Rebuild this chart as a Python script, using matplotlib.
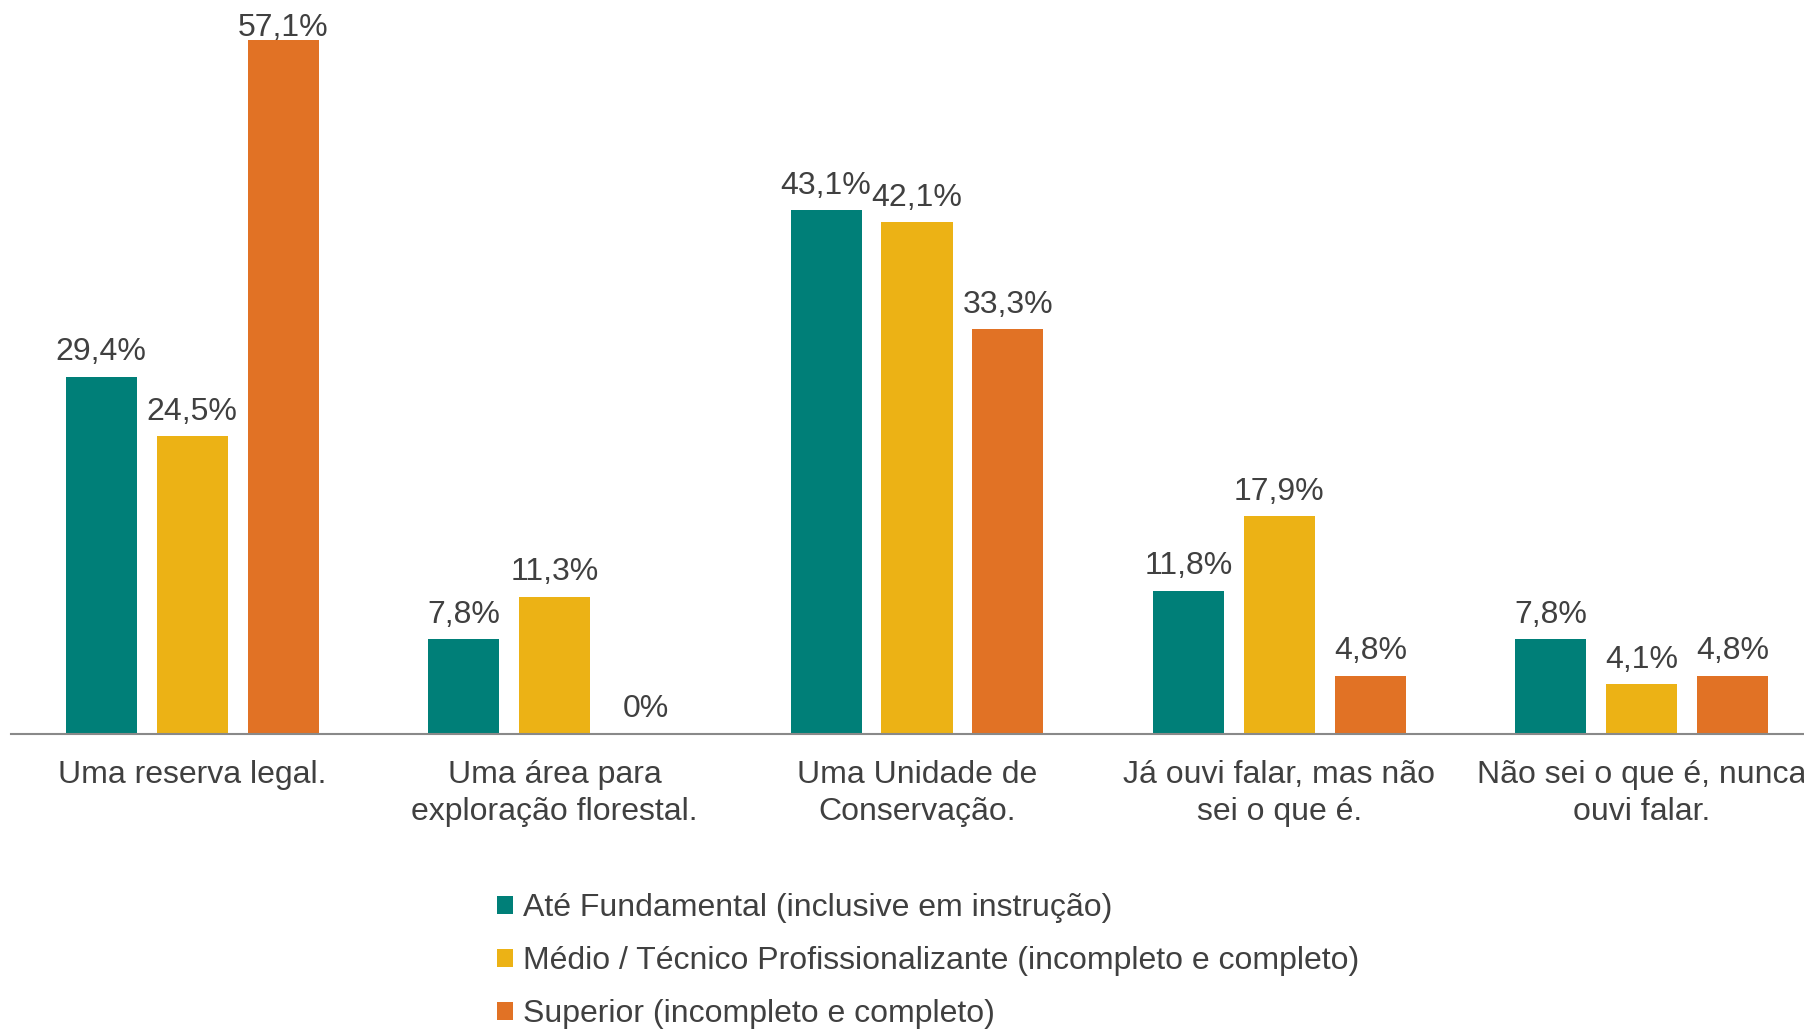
import matplotlib.pyplot as plt
import numpy as np
from matplotlib.patches import Patch

categories = ["Uma reserva legal.", "Uma área para\nexploração florestal.",
              "Uma Unidade de\nConservação.", "Já ouvi falar, mas não\nsei o que é.",
              "Não sei o que é, nunca\nouvi falar."]
series_names = ["Até Fundamental (inclusive em instrução)",
                "Médio / Técnico Profissionalizante (incompleto e completo)",
                "Superior (incompleto e completo)"]
fundamental = [29.4, 7.8, 43.1, 11.8, 7.8]
medio = [24.5, 11.3, 42.1, 17.9, 4.1]
superior = [57.1, 0.0, 33.3, 4.8, 4.8]
colors = ["#007F78", "#ECB215", "#E17225"]

plt.rcParams['font.family'] = ['Liberation Sans', 'DejaVu Sans']
TXT = "#404040"
FS = 23

fig = plt.figure(figsize=(18.04, 10.29), dpi=100)
# axes runs a bit past the right edge, like the original (last label is cut)
ax = fig.add_axes([11/1804, 1 - 734/1029, 1812/1804, 734/1029])
ymax = 60.4
ax.set_ylim(0, ymax)
ax.set_xlim(-0.5, 4.5)

x = np.arange(len(categories))
width = 0.196
step = 0.251
px_per_unit = 734 / ymax

for i, (vals, c) in enumerate(zip([fundamental, medio, superior], colors)):
    xs = x + (i - 1) * step
    ax.bar(xs, vals, width, color=c, edgecolor='none')
    for xi, v in zip(xs, vals):
        # keep label inside the figure when the bar is near the top
        room = (ymax - v) * px_per_unit - 36
        off = max(1.5, min(12, room * 0.72))
        lab = ("%.1f%%" % v).replace(".", ",") if v != 0 else "0%"
        ax.annotate(lab, (xi, v), xytext=(0, off), textcoords='offset points',
                    ha='center', va='baseline', fontsize=FS, color=TXT)

for s in ['top', 'right', 'left']:
    ax.spines[s].set_visible(False)
ax.spines['bottom'].set_color('#898989')
ax.spines['bottom'].set_linewidth(1.5)
ax.set_yticks([])
ax.set_xticks(x)
ax.set_xticklabels(categories, fontsize=FS, color=TXT, linespacing=1.28)
ax.tick_params(axis='x', length=0, pad=19)

handles = [Patch(facecolor=c, edgecolor='none') for c in colors]
fig.legend(handles, series_names, loc='upper left',
           bbox_to_anchor=(497/1804, 1 - 893/1029), frameon=False,
           fontsize=FS, labelcolor=TXT, handlelength=0.5, handleheight=0.5,
           handletextpad=0.3, labelspacing=0.72, borderpad=0, borderaxespad=0)

fig.savefig("out.png", dpi=100)
